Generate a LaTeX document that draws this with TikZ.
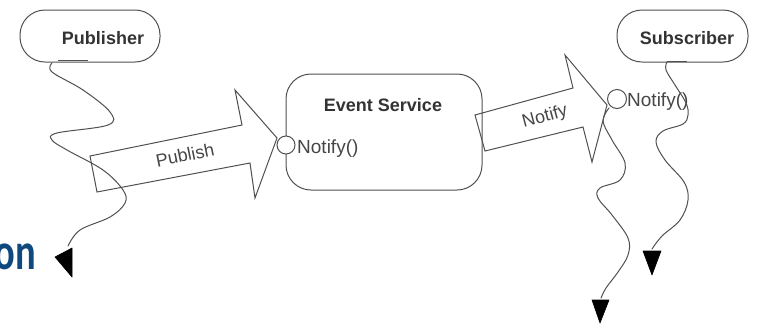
\documentclass[tikz,border=0pt]{standalone}
\usepackage{fontspec}
\setmainfont{Liberation Sans}
\newfontfamily\slidefont{Carlito}
\definecolor{inkgray}{RGB}{80,80,80}
\definecolor{textgray}{RGB}{70,70,70}
\definecolor{slideblue}{RGB}{14,72,125}
\begin{document}
\begin{tikzpicture}[x=1pt,y=-1pt,
  wire/.style={draw=inkgray, line width=1pt},
  squig/.style={draw=inkgray, line width=1pt, line join=round, line cap=round},
  capsule/.style={wire, rounded corners=25pt, minimum height=52pt, inner sep=0pt},
  compbox/.style={wire, rounded corners=25pt, minimum width=196pt, minimum height=116pt, inner sep=0pt},
  port/.style={wire, circle, fill=white, minimum size=18pt, inner sep=0pt},
  title/.style={font=\bfseries\fontsize{18}{20}\selectfont, text=black!80, inner sep=0pt, anchor=base},
  oplabel/.style={font=\fontsize{19}{21}\selectfont, text=textgray, inner sep=0pt, anchor=base west},
  arrowlabel/.style={font=\fontsize{18}{20}\selectfont, text=textgray, inner sep=0pt},
  tipfill/.style={fill=black, draw=black, line width=0.6pt, line join=round}
]
\useasboundingbox (0,0) rectangle (757,325);

% components
\node[capsule, minimum width=140pt] (pub) at (90,36) {};
\node[title] (pubtxt) at (103,44) {Publisher};
\node[capsule, minimum width=131pt] (sub) at (682.5,36) {};
\node[title] (subtxt) at (687,44) {Subscriber};
\node[compbox] (es) at (384,132) {};
\node[title] (estxt) at (383,111) {Event Service};

% block arrows
\draw[wire, line join=miter] (90,156) -- (242,125) -- (235,90) -- (277,138)
  -- (255,198) -- (250,163) -- (97,192) -- cycle;
\node[arrowlabel, rotate=11.5] (publbl) at (185,155) {Publish};
\draw[wire, line join=miter] (475,115) -- (573,88) -- (565,55) -- (607,105)
  -- (592,162) -- (583,127) -- (485,151) -- cycle;
\node[arrowlabel, rotate=15] (notlbl) at (545,117) {Notify};

% interface ports
\node[port] (p1) at (286,145) {};
\node[oplabel] (p1txt) at (297,153) {Notify()};
\node[port, minimum size=19pt] (p2) at (617,99) {};
\node[oplabel] (p2txt) at (627,106) {Notify()};

% tabs under the capsules
\draw[wire] (58,60.5) -- (88,60.5);
\draw[wire] (667,61) -- (687,61);

% control threads
\coordinate (pubfoot) at (52,63);
\coordinate (pubend) at (68,246);
\draw[squig] plot[smooth, tension=0.6] coordinates {(pubfoot) (52,72) (83,90) (110,112)
  (108,125) (57,133) (52,140) (67,150) (103,170) (123,190) (125,203) (110,217) (80,230) (pubend)};
\fill[tipfill] (55,257) -- (72,248) -- (72,277) -- cycle;

\coordinate (portfoot) at (609,108);
\coordinate (portend) at (601,298);
\draw[squig] plot[smooth, tension=0.6] coordinates {(portfoot) (603,121) (612,140) (625,163)
  (620,180) (600,188) (598,198) (612,215) (628,238) (628,255) (618,272) (606,288) (portend)};
\fill[tipfill] (592,300) -- (609,300) -- (600,323) -- cycle;

\coordinate (subfoot) at (667,62);
\coordinate (subend) at (652,249);
\draw[squig] plot[smooth, tension=0.6] coordinates {(subfoot) (666,70) (675,85) (686,103)
  (688,115) (683,124) (663,131) (656,142) (665,160) (684,182) (688,200) (680,220) (662,236) (subend)};
\fill[tipfill] (643,251) -- (661,251) -- (652,275) -- cycle;

% slide title fragment
\node[anchor=base east, text=slideblue, inner sep=0pt] (word) at (36,269)
  {\slidefont\bfseries\fontsize{52}{52}\selectfont\scalebox{0.74}[1]{on}};
\end{tikzpicture}
\end{document}
